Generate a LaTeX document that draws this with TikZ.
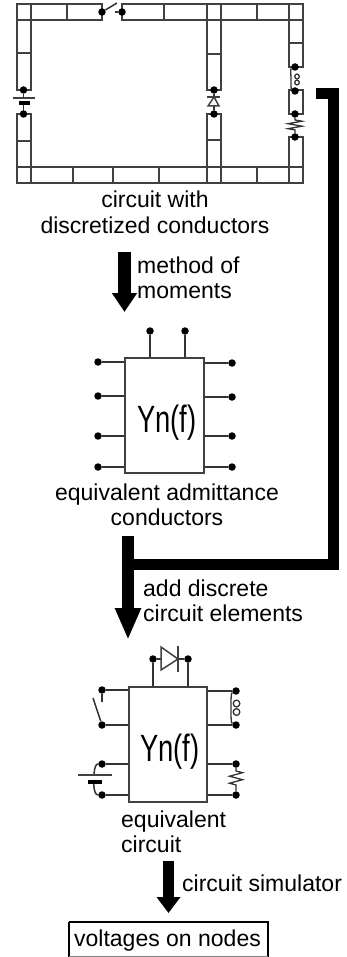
\documentclass[tikz,border=0pt]{standalone}
\usepackage{fontspec}
\setmainfont{Liberation Sans}
\usetikzlibrary{positioning}
\usetikzlibrary{arrows.meta}
\usetikzlibrary{decorations.pathmorphing}
\tikzset{
    wire/.style = {line width=1.5pt,draw=black!80},
    pin/.style = {circle,fill=black,inner sep=0pt,minimum size=7.5pt},
    plate/.style = {line width=1.5pt,draw=black!75},
    plateb/.style = {line width=4pt,draw=black},
    cond/.style = {line width=1.6pt,draw=black!75},
    chip/.style = {rectangle,line width=1.6pt,draw=black!75,inner sep=0pt},
    chipname/.style = {inner sep=0pt,xscale=.72,font=\fontsize{38}{38}\selectfont,text=black},
    caption/.style = {inner sep=0pt,align=center,font=\fontsize{23}{25.5}\selectfont,text=black},
    captionl/.style = {inner sep=0pt,align=left,anchor=west,font=\fontsize{23}{25.5}\selectfont,text=black},
    flowa/.style = {line width=13pt,-{Triangle[length=19pt,width=24pt]}},
    flowb/.style = {line width=12pt,-{Triangle[length=32pt,width=24pt]}},
    flowc/.style = {line width=11pt,-{Triangle[length=16pt,width=23pt]}},
    feed/.style = {line width=11pt,miter limit=10},
    loopw/.style = {wire,line width=1.3pt},
    zigw/.style = {wire,line width=1.3pt,decorate,decoration={zigzag,amplitude=7pt,segment length=5pt,pre length=2pt,post length=2pt}}
}
\begin{document}
\begin{tikzpicture}[x=1pt,y=-1pt]
  \useasboundingbox (0,0) rectangle (347,957);
  % discretized conductors
  \draw[cond] (102,4) -- (17,4) -- (17,20) -- (102,20) -- cycle;
  \draw[cond] (122,4) -- (303,4) -- (303,20) -- (122,20) -- cycle;
  \draw[cond] (17,167) rectangle (303,183);
  \draw[cond] (31,4) -- (31,90) -- (17,90) -- (17,4);
  \draw[cond] (67,4) -- (67,20) (164,4) -- (164,20) (257,4) -- (257,20) (289,4) -- (289,20);
  \draw[cond] (207,4) -- (207,90) -- (221,90) -- (221,4);
  \draw[cond] (17,53) -- (31,53) (207,54) -- (221,54) (289,43) -- (303,43);
  \draw[cond] (289,20) -- (289,67) -- (303,67) -- (303,20);
  \draw[cond] (289,90) rectangle (303,114);
  \draw[cond] (289,183) -- (289,137) -- (303,137) -- (303,183);
  \draw[cond] (17,183) -- (17,114) -- (31,114) -- (31,183);
  \draw[cond] (207,183) -- (207,114) -- (221,114) -- (221,183);
  \draw[cond] (17,141) -- (31,141) (207,140) -- (221,140);
  \draw[cond] (73,167) -- (73,183) (113,167) -- (113,183) (159,167) -- (159,183) (257,167) -- (257,183);
  % elements of the circuit
  \node[pin] (swa) at (102,12) {};
  \node[pin] (swb) at (122,12) {};
  \coordinate (swc) at (117,3);
  \coordinate (swd) at (115,12);
  \draw[wire] (swa) -- (swc);
  \draw[wire] (swb) -- (swd);
  \node[pin] (bata) at (23.5,90) {};
  \node[pin] (batb) at (23.5,114) {};
  \coordinate (bathi) at (23.5,98);
  \coordinate (batlo) at (23.5,103);
  \draw[wire] (bata) -- (bathi);
  \draw[wire] (batb) -- (batlo);
  \draw[plate] (12.5,98) -- (34.5,98);
  \draw[plateb] (18.5,103.5) -- (29.5,103.5);
  \node[pin] (dioa) at (214,90) {};
  \node[pin] (diob) at (214,114) {};
  \coordinate (diotop) at (214,97);
  \coordinate (diobase) at (214,106);
  \draw[wire] (dioa) -- (diotop);
  \draw[wire] (diob) -- (diobase);
  \draw[plate] (207,97) -- (220,97);
  \draw[plate] (214,97) -- (219,106) -- (208,106) -- cycle;
  \node[pin] (inda) at (295,67) {};
  \node[pin] (indb) at (295,91) {};
  \draw[loopw] (inda) .. controls (290,69) and (291,73) .. (291,79) .. controls (291,85) and (291,89) .. (indb);
  \draw[loopw] (297,76.5) ellipse (2.3 and 2.4);
  \draw[loopw] (297,82.5) ellipse (2.3 and 2.4);
  \node[pin] (resa) at (295,114) {};
  \node[pin] (resb) at (295,137) {};
  \draw[zigw] (resa) -- (resb);
  \node[caption] (lbcircuit) at (155,212.5) {circuit with\\discretized conductors};
  % method of moments
  \coordinate (arra) at (124.5,252);
  \coordinate (arrb) at (124.5,312);
  \draw[flowa] (arra) -- (arrb);
  \node[captionl] (lbmethod) at (137,278) {method of\\moments};
  \node[chip,minimum width=79pt,minimum height=115pt] (yna) at (164.5,415.5) {};
  \node[chipname] (yntexta) at (167,423) {Yn(f)};
  \node[pin] (at) at (150,331) {};
  \node[pin] (bt) at (185,331) {};
  \draw[wire] (at) -- (at |- yna.north);
  \draw[wire] (bt) -- (bt |- yna.north);
  \node[pin] (al) at (98,362) {};
  \node[pin] (bl) at (98,396) {};
  \node[pin] (cl) at (98,436) {};
  \node[pin] (dl) at (98,467) {};
  \node[pin] (ar) at (232,363) {};
  \node[pin] (br) at (232,397) {};
  \node[pin] (cr) at (232,436) {};
  \node[pin] (dr) at (232,467) {};
  \draw[wire] (al) -- (al -| yna.west);
  \draw[wire] (bl) -- (bl -| yna.west);
  \draw[wire] (cl) -- (cl -| yna.west);
  \draw[wire] (dl) -- (dl -| yna.west);
  \draw[wire] (ar) -- (ar -| yna.east);
  \draw[wire] (br) -- (br -| yna.east);
  \draw[wire] (cr) -- (cr -| yna.east);
  \draw[wire] (dr) -- (dr -| yna.east);
  \node[caption] (lbadm) at (167,505) {equivalent admittance\\conductors};
  % add discrete circuit elements
  \coordinate (fba) at (316,94);
  \coordinate (fbb) at (333.5,94);
  \coordinate (fbc) at (333.5,564);
  \coordinate (fbd) at (128,564);
  \draw[feed] (fba) -- (fbb) -- (fbc) -- (fbd);
  \coordinate (arrc) at (128,536);
  \coordinate (arrd) at (128,640);
  \draw[flowb] (arrc) -- (arrd);
  \node[captionl] (lbadd) at (143,601) {add discrete\\circuit elements};
  \node[chip,minimum width=78pt,minimum height=115pt] (ynb) at (168,744.5) {};
  \node[chipname] (yntextb) at (170,752) {Yn(f)};
  \node[pin] (tl) at (153,659) {};
  \node[pin] (tr) at (188,659) {};
  \draw[wire] (tl) -- (tl |- ynb.north);
  \draw[wire] (tr) -- (tr |- ynb.north);
  \draw[wire] (tl) -- (tr);
  \draw[plate,fill=white] (161,647) -- (178,659) -- (161,670) -- cycle;
  \draw[plate] (178,646) -- (178,672);
  \node[pin] (pa) at (102,690) {};
  \node[pin] (pb) at (102,725) {};
  \node[pin] (pc) at (102,764) {};
  \node[pin] (pd) at (102,795) {};
  \node[pin] (qa) at (236,691) {};
  \node[pin] (qb) at (236,725) {};
  \node[pin] (qc) at (236,764) {};
  \node[pin] (qd) at (236,795) {};
  \draw[wire] (pa) -- (pa -| ynb.west);
  \draw[wire] (pb) -- (pb -| ynb.west);
  \draw[wire] (pc) -- (pc -| ynb.west);
  \draw[wire] (pd) -- (pd -| ynb.west);
  \draw[wire] (qa) -- (qa -| ynb.east);
  \draw[wire] (qb) -- (qb -| ynb.east);
  \draw[wire] (qc) -- (qc -| ynb.east);
  \draw[wire] (qd) -- (qd -| ynb.east);
  \coordinate (swe) at (93,698);
  \coordinate (swf) at (102,702);
  \draw[wire] (pb) -- (swe);
  \draw[wire] (pa) -- (swf);
  \coordinate (bhi) at (94,775);
  \coordinate (blo) at (94,781);
  \draw[wire] (pc) to[out=180,in=-90] (bhi);
  \draw[wire] (pd) to[out=180,in=90] (blo);
  \draw[plate] (78,775) -- (111.5,775);
  \draw[plateb] (88,781.5) -- (102,781.5);
  \draw[loopw] (qa) .. controls (231,693) and (231,698) .. (231,708) .. controls (231,718) and (231,723) .. (qb);
  \draw[loopw] (236.5,703.5) ellipse (3.3 and 3.4);
  \draw[loopw] (236.5,712) ellipse (3.3 and 3.4);
  \draw[zigw,decoration={segment length=7pt,amplitude=6.5pt,pre length=3pt,post length=3pt}] (qc) -- (qd);
  \node[captionl] (lbeq) at (121,832) {equivalent\\circuit};
  % circuit simulator
  \coordinate (arre) at (168.5,861);
  \coordinate (arrf) at (168.5,913);
  \draw[flowc] (arre) -- (arrf);
  \node[captionl] (lbsim) at (182,883) {circuit simulator};
  \draw[line width=2pt] (68.5,922) -- (267.5,922) -- (267.5,957);
  \draw[line width=2pt] (68.5,922) -- (68.5,957);
  \draw[line width=.7pt,draw=black!50] (68.5,956.5) -- (267.5,956.5);
  \node[caption] (lbvolt) at (167.5,941) {voltages on nodes};
\end{tikzpicture}
\end{document}
